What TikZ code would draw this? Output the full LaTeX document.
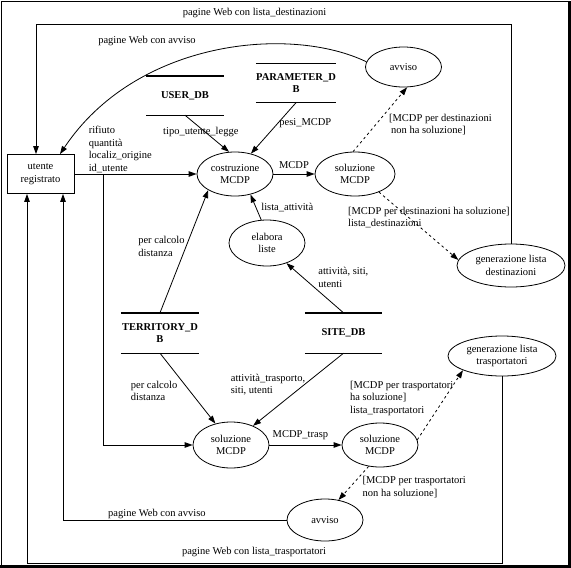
\documentclass[tikz,border=0pt]{standalone}
\usepackage{fontspec}
\setmainfont{Liberation Serif}
\usepackage{tikz}
\usetikzlibrary{shapes.geometric,arrows.meta,positioning}

\begin{document}
\begin{tikzpicture}[
    x=1pt, y=-1pt,
    font=\fontsize{10.5}{12.5}\selectfont,
    proc/.style={
        ellipse, draw, line width=0.8pt, inner sep=0pt, align=center,
        minimum width=76pt, minimum height=44pt
    },
    ext/.style={
        rectangle, draw, line width=0.8pt, inner sep=0pt, align=center,
        minimum width=67pt, minimum height=39pt
    },
    storeline/.style={draw, line width=1.4pt},
    store/.style={
        rectangle, inner sep=0pt, align=center,
        font=\fontsize{10.5}{12.5}\selectfont\bfseries,
        minimum width=77pt, minimum height=39pt,
        append after command={
            (\tikzlastnode.north west) edge[storeline] (\tikzlastnode.north east)
            (\tikzlastnode.south west) edge[storeline] (\tikzlastnode.south east)
        }
    },
    flow/.style={-{Triangle[length=8pt, width=5.5pt]}, line width=0.8pt},
    dashflow/.style={flow, dash pattern=on 2.5pt off 3pt},
    lab/.style={inner sep=1pt, align=left}
]
\useasboundingbox (0,0) rectangle (571,568);

% Frame
\draw[line width=0.6pt] (1,1) rectangle (569,566);
\draw[line width=2.5pt] (569.5,1) -- (569.5,566.5) -- (0,566.5);

% External entity
\node[ext] (utente) at (40.5,174) {utente\\registrato};

% Processes
\node[proc] (costr) at (235,174) {costruzione\\MCDP};
\node[proc, minimum width=80pt] (sol1) at (355,174) {soluzione\\MCDP};
\node[proc, minimum height=40pt] (avv1) at (403.5,67) {avviso};
\node[proc, minimum height=46pt] (elab) at (267,243) {elabora\\liste};
\node[proc, minimum width=108pt, minimum height=43pt] (gendest) at (511,265.5) {generazione lista\\destinazioni};
\node[proc, minimum width=108pt, minimum height=40pt] (gentrasp) at (502,356) {generazione lista\\trasportatori};
\node[proc, minimum height=46pt] (solA) at (231,445) {soluzione\\MCDP};
\node[proc] (solB) at (380,445) {soluzione\\MCDP};
\node[proc, minimum height=42pt] (avv2) at (325,520) {avviso};

% Data stores
\node[store] (userdb) at (185,95.5) {USER\_DB};
\node[store] (paramdb) at (296,83) {PARAMETER\_D\\B};
\node[store, minimum width=78pt, minimum height=40pt] (terrdb) at (160,333) {TERRITORY\_D\\B};
\node[store, minimum height=40pt] (sitedb) at (343.5,333) {SITE\_DB};

% Corners of the return lines
\coordinate (split) at (103,174);
\coordinate (retTopR) at (511,24);
\coordinate (retTopL) at (36,24);
\coordinate (retAvvL) at (63,520);
\coordinate (retBotR) at (502,563);
\coordinate (retBotL) at (27,563);

% Flows from the user
\draw[flow] (utente.east) -- node[lab, pos=0.106, anchor=south west] {rifiuto\\quantità\\localiz\_origine\\id\_utente} (costr.west);
\draw[flow] (split) |- (solA.west);

% Destinations branch
\draw[flow] (userdb.south) -- node[lab, pos=0.45, xshift=-4pt] {tipo\_utente\_legge} (costr.105);
\draw[flow] (paramdb.south) -- node[lab, pos=0.4, anchor=west] {pesi\_MCDP} (costr.52);
\draw[flow] (costr.east) -- node[lab, above=4pt] {MCDP} (sol1.west);
\draw[dashflow] (sol1.95) -- node[lab, pos=0.42, anchor=west, xshift=12pt] {[MCDP per destinazioni\\\hspace*{2pt}non ha soluzione]} (avv1.-80);
\draw[dashflow] (sol1.-37) -- node[lab, pos=0.375, anchor=west, xshift=-62pt] {[MCDP per destinazioni ha soluzione]\\lista\_destinazioni} (gendest.174);
\draw[flow] (elab.104) -- node[lab, pos=0.49, anchor=west, xshift=4pt] {lista\_attività} (costr.-53);
\draw[flow] (sitedb.north) -- node[lab, pos=0.71, anchor=west, xshift=14pt] {attività, siti,\\utenti} (elab.-46);
\draw[flow] (terrdb.north) -- node[lab, pos=0.54, anchor=east] {per calcolo\\distanza} (costr.211);

% Transport branch
\draw[flow] (terrdb.south) -- node[lab, pos=0.535, anchor=east, xshift=-11pt] {per calcolo\\distanza} (solA.126);
\draw[flow] (sitedb.south) -- node[lab, pos=0.43, anchor=east, xshift=2pt] {attività\_trasporto,\\siti, utenti} (solA.41);
\draw[flow] (solA.east) -- node[lab, above=4pt, pos=0.43] {MCDP\_trasp} (solB.west);
\draw[dashflow] (solB.8) -- node[lab, pos=0.6, anchor=west, xshift=-96pt] {[MCDP per trasportatori\\ha soluzione]\\lista\_trasportatori} (gentrasp.200);
\draw[dashflow] (solB.242) -- node[lab, pos=0.61, anchor=west, xshift=11pt] {[MCDP per trasportatori\\non ha soluzione]} (avv2.56);

% Returns to the user
\draw[flow] (gendest.north) -- (retTopR) -- node[lab, above=5pt, pos=0.54] {pagine Web con lista\_destinazioni} (retTopL) -- (retTopL |- utente.north);
\draw[flow] (avv1.172) .. controls (290,25) and (136,40) .. ([xshift=19.5pt]utente.north);
\node[lab] (avvTopLab) at (147,41) {pagine Web con avviso};
\draw[flow] (avv2.west) -- node[lab, above, pos=0.58] {pagine Web con avviso} (retAvvL) -- (retAvvL |- utente.south);
\draw[flow] (gentrasp.south) -- (retBotR) -- node[lab, above=5pt, pos=0.522] {pagine Web con lista\_trasportatori} (retBotL) -- (retBotL |- utente.south);

\end{tikzpicture}
\end{document}
